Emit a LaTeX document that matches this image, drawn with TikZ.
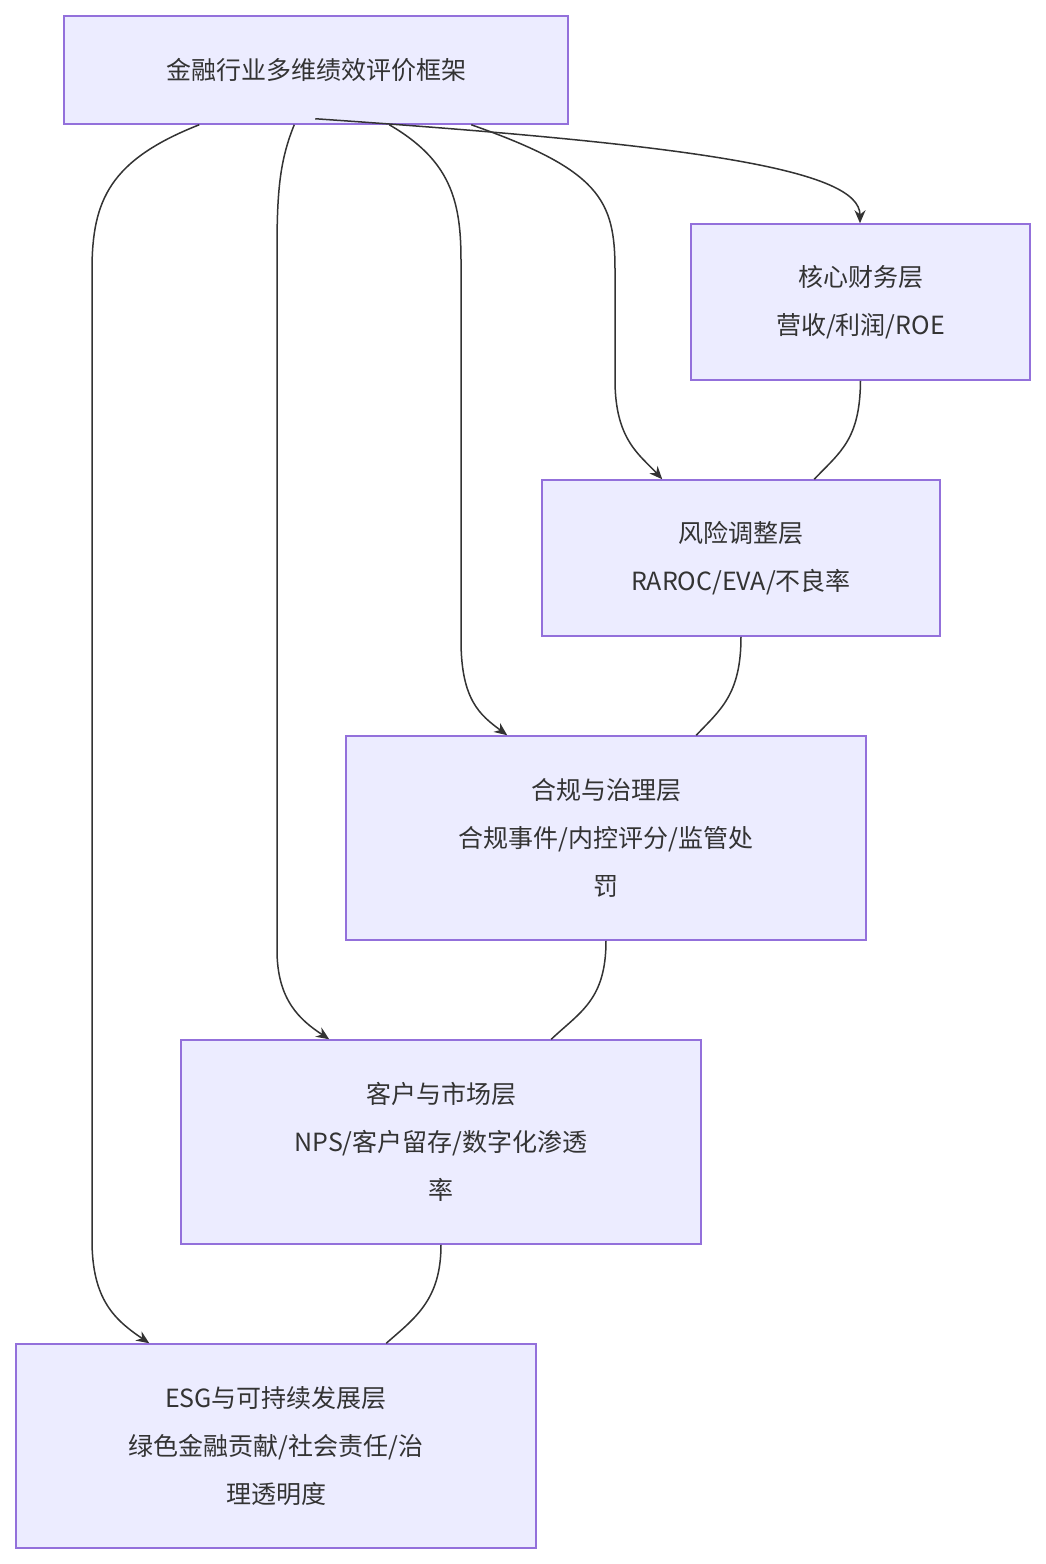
\documentclass[tikz,border=0pt]{standalone}
\usepackage{fontspec}
\setmainfont{Noto Sans CJK SC}
\usetikzlibrary{arrows.meta,calc}
\definecolor{nfill}{HTML}{ECECFF}
\definecolor{nline}{HTML}{9370DB}
\definecolor{ink}{HTML}{333333}
\begin{document}
\begin{tikzpicture}[x=1pt,y=-1pt,
  box/.style={draw=nline,fill=nfill,line width=1.5pt,inner sep=0pt,align=center,text=ink,font=\fontsize{25}{48}\selectfont},
  ar/.style={draw=ink,line width=1.5pt,-{Stealth[length=13pt,width=11pt]}},
  ln/.style={draw=ink,line width=1.5pt}]
\useasboundingbox (0,0) rectangle (1045,1564);
\node[box,minimum width=504pt,minimum height=108pt] (t) at (316,70) {金融行业多维绩效评价框架};
\node[box,minimum width=339pt,minimum height=156pt] (a) at (860.5,302) {核心财务层\\营收/利润/ROE};
\node[box,minimum width=398pt,minimum height=156pt] (b) at (741,558) {风险调整层\\RAROC/EVA/不良率};
\node[box,minimum width=520pt,minimum height=204pt] (c) at (606,838) {合规与治理层\\合规事件/内控评分/监管处\\罚};
\node[box,minimum width=520pt,minimum height=204pt] (d) at (441,1142) {客户与市场层\\NPS/客户留存/数字化渗透\\率};
\node[box,minimum width=520pt,minimum height=204pt] (e) at (276,1446) {ESG与可持续发展层\\绿色金融贡献/社会责任/治\\理透明度};
% arrows from top
\draw[ar] ([xshift=252pt,yshift=6pt]t.south west) .. controls (700,145) and (860,170) .. ([xshift=-0.5pt]a.north);
\draw[ar] ([xshift=408pt]t.south west) .. controls (600,170) and (615,200) .. (615,270) -- (615,380) .. controls (615,440) and (640,455) .. ([xshift=121pt]b.north west);
\draw[ar] ([xshift=326pt]t.south west) .. controls (450,160) and (461,200) .. (461,260) -- (461,640) .. controls (461,700) and (480,715) .. ([xshift=162pt]c.north west);
\draw[ar] ([xshift=231pt]t.south west) .. controls (280,160) and (277,190) .. (277,250) -- (277,950) .. controls (277,1000) and (300,1020) .. ([xshift=149pt]d.north west);
\draw[ar] ([xshift=136pt]t.south west) .. controls (110,160) and (92,200) .. (92,270) -- (92,1240) .. controls (92,1300) and (115,1320) .. ([xshift=134pt]e.north west);
% chain lines
\draw[ln] (a.south) .. controls (860,440) and (840,452) .. ([xshift=273pt]b.north west);
\draw[ln] (b.south) .. controls (741,695) and (720,710) .. ([xshift=351pt]c.north west);
\draw[ln] (c.south) .. controls (606,1000) and (580,1012) .. ([xshift=371pt]d.north west);
\draw[ln] (d.south) .. controls (441,1300) and (415,1318) .. ([xshift=371pt]e.north west);
\end{tikzpicture}
\end{document}
